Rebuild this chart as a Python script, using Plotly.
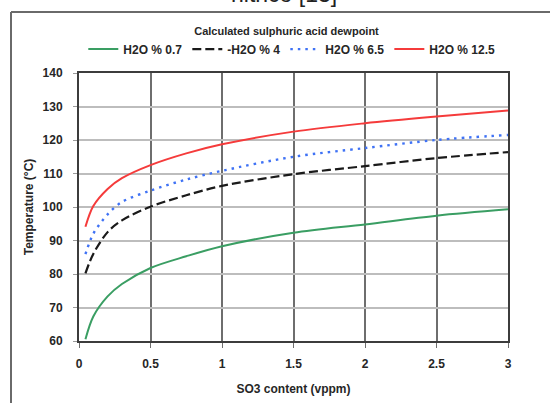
import plotly.graph_objects as go

so3_vppm = [0.045, 0.1, 0.2, 0.3, 0.5, 0.75, 1.0, 1.5, 2.0, 2.5, 3.0]
h2o_07 = [60.5, 67.3, 73.3, 77.0, 81.8, 85.3, 88.3, 92.3, 94.8, 97.4, 99.3]
h2o_4 = [80.2, 86.0, 92.5, 96.0, 100.1, 103.5, 106.3, 109.8, 112.2, 114.6, 116.4]
h2o_65 = [85.9, 92.0, 97.8, 101.5, 104.9, 108.2, 110.8, 115.0, 117.6, 120.0, 121.5]
h2o_125 = [94.1, 100.3, 105.4, 108.6, 112.5, 116.0, 118.7, 122.5, 125.0, 127.0, 128.8]

series_names = ["H2O % 0.7", "-H2O % 4", "H2O % 6.5", "H2O % 12.5"]
x_ticks = [0, 0.5, 1, 1.5, 2, 2.5, 3]
x_tick_labels = ["0", "0.5", "1", "1.5", "2", "2.5", "3"]
y_ticks = [60, 70, 80, 90, 100, 110, 120, 130, 140]

FONT = "Arial, Liberation Sans, sans-serif"
TXT = "#262626"

fig = go.Figure()
styles = [
    dict(color="#3a9e63", width=2, dash="solid"),
    dict(color="#1a1a1a", width=2.2, dash="9px,4px"),
    dict(color="#3f72f5", width=2.4, dash="2.5px,5px"),
    dict(color="#f53b3b", width=2, dash="solid"),
]
for name, ys, st in zip(series_names, [h2o_07, h2o_4, h2o_65, h2o_125], styles):
    fig.add_trace(go.Scatter(x=so3_vppm, y=ys, mode="lines", name=name,
                             line=dict(shape="spline", smoothing=0.9, **st)))

fig.update_layout(
    width=550, height=403,
    margin=dict(l=79, r=42, t=73, b=62, autoexpand=False),
    paper_bgcolor="white", plot_bgcolor="white",
    font=dict(family=FONT, size=12, color=TXT),
    showlegend=True,
    legend=dict(orientation="h", x=0.01, y=1.035, xanchor="left", yanchor="bottom",
                font=dict(size=12, color=TXT, weight="bold"),
                itemwidth=30, tracegroupgap=0, bgcolor="rgba(0,0,0,0)"),
    title=dict(text="Calculated sulphuric acid dewpoint", x=286.5 / 550, xref="container",
               y=1 - 31 / 403, yref="container", xanchor="center", yanchor="middle",
               font=dict(size=11, color=TXT, weight="bold")),
)
fig.update_xaxes(range=[0, 3], tickvals=x_ticks, ticktext=x_tick_labels,
                 automargin=False,
                 showgrid=True, gridcolor="#6e6e6e", gridwidth=1.5,
                 showline=True, linecolor="#3c3c3c", linewidth=2, mirror=True,
                 ticks="outside", ticklen=5, tickcolor="#6e6e6e",
                 ticklabelstandoff=6,
                 tickfont=dict(size=12, color=TXT, weight="bold"),
                 title=dict(text="SO3 content (vppm)", standoff=14,
                            font=dict(size=12, color=TXT, weight="bold")),
                 zeroline=False)
fig.update_yaxes(range=[60, 140], tickvals=y_ticks,
                 automargin=False,
                 showgrid=True, gridcolor="#bdbdbd", gridwidth=1.5,
                 showline=True, linecolor="#3c3c3c", linewidth=2, mirror=True,
                 ticks="outside", ticklen=4, tickcolor="#9a9a9a",
                 ticklabelstandoff=8,
                 tickfont=dict(size=12, color=TXT, weight="bold"),
                 title=dict(text="Temperature (°C)", standoff=6,
                            font=dict(size=12, color=TXT, weight="bold")),
                 zeroline=False)

# outer frame of the embedded figure (left and top edges visible)
fig.add_shape(type="line", xref="paper", yref="paper",
              x0=(11 - 79) / 429, x1=(11 - 79) / 429, y0=(341 - 12) / 268, y1=(341 - 420) / 268,
              line=dict(color="#6a6a6a", width=2))
fig.add_shape(type="line", xref="paper", yref="paper",
              x0=(11 - 79) / 429, x1=(570 - 79) / 429, y0=(341 - 12) / 268, y1=(341 - 12) / 268,
              line=dict(color="#6a6a6a", width=2))
# caption text cut off at top of the image
fig.add_annotation(text="nitrico [13]", xref="paper", yref="paper",
                   x=(284 - 79) / 429, y=(341 + 6) / 268, xanchor="center", yanchor="middle",
                   showarrow=False, font=dict(family="Liberation Sans, Arial", size=23, color="#222"))

fig.write_html("out.html")
